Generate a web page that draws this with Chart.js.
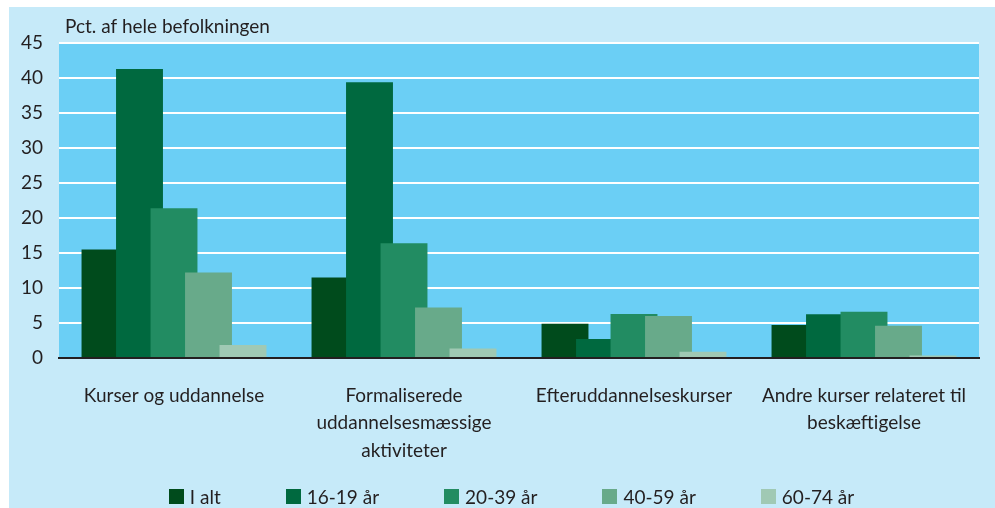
<!DOCTYPE html>
<html>
<head>
<meta charset="utf-8">
<script src="https://cdn.jsdelivr.net/npm/chart.js@4.4.1/dist/chart.umd.min.js"></script>
<style>
  html, body { margin: 0; padding: 0; background: #fff; }
  #wrap { position: relative; width: 995px; height: 508px; }
  #legend { position: absolute; left: 28px; right: 0; top: 485px; display: flex; justify-content: center; gap: 65px;
            font: 19px Lato, sans-serif; line-height: 23px; color: #231f20; }
  #legend .item { display: flex; align-items: center; }
  #legend .box { width: 15px; height: 15px; margin-right: 6px; }
</style>
</head>
<body>
<div id="wrap">
  <canvas id="chart" width="995" height="508"></canvas>
  <div id="legend"></div>
</div>
<script>
var categories = [
    ['Kurser og uddannelse'],
    ['Formaliserede', 'uddannelsesmæssige', 'aktiviteter'],
    ['Efteruddannelseskurser'],
    ['Andre kurser relateret til', 'beskæftigelse']
];
var seriesNames = ['I alt', '16-19 år', '20-39 år', '40-59 år', '60-74 år'];
var iAlt      = [15.5, 11.5, 4.9, 4.7];
var age16to19 = [41.3, 39.4, 2.7, 6.25];
var age20to39 = [21.4, 16.4, 6.3, 6.6];
var age40to59 = [12.2, 7.2, 6.0, 4.6];
var age60to74 = [1.85, 1.35, 0.9, 0.35];
var yMax = 45, yStep = 5;
var yTitle = 'Pct. af hele befolkningen';

var colors = ['#004b1c', '#00693f', '#228c62', '#68aa8a', '#a0c9b4'];
var textColor = '#231f20';
var fontFamily = 'Lato, sans-serif';

var seriesValues = [iAlt, age16to19, age20to39, age40to59, age60to74];
var datasets = seriesNames.map(function (name, i) {
    return {
        label: name,
        data: seriesValues[i],
        backgroundColor: colors[i],
        borderWidth: 0,
        barPercentage: 1.36,
        categoryPercentage: 0.75
    };
});

// panel + plot background
var backgroundPlugin = {
    id: 'panelBg',
    beforeDraw: function (chart) {
        var ctx = chart.ctx, a = chart.chartArea;
        ctx.save();
        ctx.fillStyle = '#ffffff';
        ctx.fillRect(0, 0, chart.width, chart.height);
        ctx.fillStyle = '#c6eaf9';
        ctx.fillRect(9, 7, chart.width - 9, chart.height - 7);
        ctx.fillStyle = '#6bcff5';
        ctx.fillRect(a.left, a.top, a.right - a.left, a.bottom - a.top);
        ctx.restore();
    },
    afterDraw: function (chart) {
        var ctx = chart.ctx;
        ctx.save();
        ctx.fillStyle = textColor;
        ctx.font = '19px ' + fontFamily;
        ctx.textBaseline = 'alphabetic';
        ctx.fillText(yTitle, chart.chartArea.left + 6, 33);
        ctx.restore();
    }
};

// right-hand bars overlap the left ones, so draw datasets left to right
var drawOrderPlugin = {
    id: 'drawOrder',
    beforeDatasetsDraw: function (chart) {
        chart.getSortedVisibleDatasetMetas().forEach(function (meta) {
            meta.controller.draw();
        });
        return false;
    }
};

var chart = new Chart(document.getElementById('chart'), {
    type: 'bar',
    data: { labels: categories, datasets: datasets },
    options: {
        responsive: false,
        animation: false,
        layout: { padding: { top: 43, right: 16, bottom: 40, left: 0 } },
        plugins: {
            legend: { display: false },
            tooltip: { enabled: false }
        },
        scales: {
            x: {
                z: 1,
                grid: { display: false, drawTicks: false },
                border: { display: true, color: textColor, width: 2 },
                ticks: {
                    color: textColor,
                    font: { family: fontFamily, size: 19, lineHeight: 1.44 },
                    padding: 24,
                    maxRotation: 0,
                    autoSkip: false
                },
                afterFit: function (scale) { scale.height = 110; }
            },
            y: {
                min: 0,
                max: yMax,
                grid: { color: '#ffffff', lineWidth: 2, drawTicks: false },
                border: { display: false },
                ticks: {
                    stepSize: yStep,
                    color: textColor,
                    font: { family: fontFamily, size: 19 },
                    padding: 16
                },
                afterFit: function (scale) { scale.width = 59; }
            }
        }
    },
    plugins: [backgroundPlugin, drawOrderPlugin]
});

// html legend built from the chart's datasets
var legendHtml = '';
chart.data.datasets.forEach(function (ds) {
    legendHtml += '<div class="item"><span class="box" style="background:' + ds.backgroundColor + '"></span>' + ds.label + '</div>';
});
document.getElementById('legend').innerHTML = legendHtml;
</script>
</body>
</html>
